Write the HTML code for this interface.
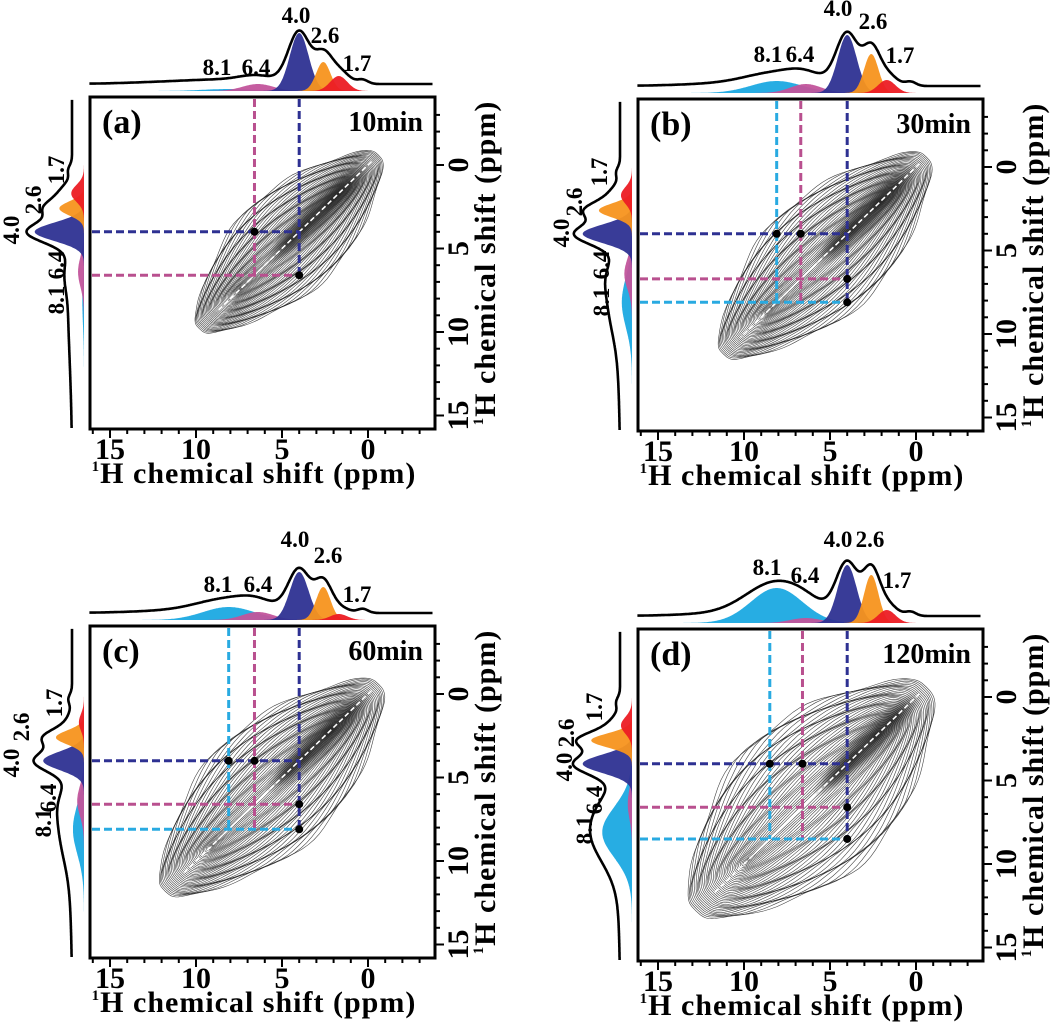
<!DOCTYPE html>
<html><head><meta charset="utf-8"><style>
html,body{margin:0;padding:0;background:#fff}
svg{display:block;font-family:"Liberation Serif",serif;font-weight:bold}
</style></head><body>
<svg id="fig" width="1050" height="1023" viewBox="0 0 1050 1023" xmlns="http://www.w3.org/2000/svg">
<defs>
<radialGradient id="blob"><stop offset="0" stop-color="#000" stop-opacity="0.7"/><stop offset="1" stop-color="#000" stop-opacity="0"/></radialGradient>
</defs>
</svg>
<script>
// ---- data ----
const panelLetters = ['(a)','(b)','(c)','(d)'];
const times = ['10min','30min','60min','120min'];
const peakCenters = [8.1, 6.4, 4.0, 2.6, 1.7];
const peakWidths = [1.5, 0.9, 0.55, 0.42, 0.5];
const peakColors = ['#1ba9e1','#c2549b','#2e3192','#f7931e','#ec1c24'];
const ampA = [2, 7, 58, 29, 15];
const ampB = [12, 9, 58, 39, 13];
const ampC = [13, 8, 48, 33, 6];
const ampD = [35, 5, 58, 48, 13];
const amps = [ampA, ampB, ampC, ampD];
const contourEnd = [9.8, 11.2, 11.8, 12.8];
const contourHalfWidth = [1.6, 1.85, 2.0, 2.5];
const crossCyan = [null, 8.1, 8.1, 8.5];
const crossMagenta = [6.6, 6.7, 6.6, 6.6];
const crossNavy = [4.0, 4.0, 4.0, 4.0];
const xTicks = [15, 10, 5, 0];
const yTicks = [0, 5, 10, 15];
const peakLabels = ['8.1','6.4','4.0','2.6','1.7'];
// layout (annotation positions, panel-relative)
const origins = [[0,0],[548,2],[0,529],[548,532]];
const topLabelPos = [
  [[217,75],[256,75],[296,23],[325,43],[357,71]],
  [[220,60],[252,60],[290,14],[325,27],[352,61]],
  [[218,63],[258,63],[295,18],[328,34],[357,73]],
  [[219,43],[257,51],[290,15],[322,15],[349,56]]
];
const leftLabelPos = [
  [[55,300],[55,265],[10,230],[32,200],[55,170]],
  [[52,300],[52,263],[12,231],[25,200],[50,170]],
  [[42,294],[47,269],[10,234],[20,198],[53,174]],
  [[35,298],[45,268],[15,235],[17,201],[45,175]]
];

const NS = 'http://www.w3.org/2000/svg';
const svg = document.getElementById('fig');
function mk(tag, attrs, parent){ const e=document.createElementNS(NS,tag); for(const k in attrs) e.setAttribute(k,attrs[k]); (parent||svg).appendChild(e); return e; }

const BL=90, BR=435, BT=97, BB=429;
function sx(p){ return 368 - 17.2*p; }
function sy(p){ return 165 + 16.7*p; }
function gauss(p,c,w){ return Math.exp(-0.5*((p-c)/w)**2); }

panelLetters.forEach((lab, i) => {
  const [ox, oy] = origins[i];
  const g = mk('g', {transform:`translate(${ox},${oy})`});
  
  
  const A = amps[i];
  const pLo = 16.2, pHi = -3.8;
  const total = (p, wm) => { let s = 0; A.forEach((a,k)=> s += a*gauss(p,peakCenters[k],peakWidths[k]*wm)); return s*0.9 + 4*gauss(p,0.3,0.3) + 3*gauss(p,10,3); };
  // ---- top projection ----
  const topG = mk('g', {}, g);
  
  
  const fb = 91;
  A.forEach((a, k) => {
    let d = `M${sx(pLo)},${fb}`;
    for (let p = pLo; p >= pHi; p -= 0.05) d += ` L${sx(p).toFixed(1)},${(fb - a*gauss(p,peakCenters[k],peakWidths[k])).toFixed(1)}`;
    d += ` L${sx(pHi)},${fb} Z`;
    const f = mk('path', {d, fill:peakColors[k], 'fill-opacity':0.95}, topG);
    
    
  });
  let bd = '';
  for (let p = pLo; p >= pHi; p -= 0.05) {
    bd += (bd ? ' L' : 'M') + sx(p).toFixed(1) + ',' + (fb - 7 - total(p,1.15)).toFixed(1);
  }
  const bt = mk('path', {d:bd, fill:'none', stroke:'#000', 'stroke-width':2.6}, topG);
  
  
  // ---- left projection ----
  const leftG = mk('g', {}, g);
  
  
  const lb = 84, yHi = 15.8;
  A.forEach((a, k) => {
    let d = `M${lb},${sy(-4)}`;
    for (let p = -4; p <= yHi; p += 0.05) d += ` L${(lb - 0.85*a*gauss(p,peakCenters[k],peakWidths[k])).toFixed(1)},${sy(p).toFixed(1)}`;
    d += ` L${lb},${sy(yHi)} Z`;
    const f = mk('path', {d, fill:peakColors[k], 'fill-opacity':0.95}, leftG);
    
    
  });
  let ld = '';
  for (let p = -3.9; p <= 15.8; p += 0.05) {
    ld += (ld ? ' L' : 'M') + (lb - 12 - 0.85*total(p,1.15)).toFixed(1) + ',' + sy(p).toFixed(1);
  }
  const bl = mk('path', {d:ld, fill:'none', stroke:'#000', 'stroke-width':2.6}, leftG);
  
  
  // ---- contours ----
  const cid = 'clip' + i;
  const cp = mk('clipPath', {id:cid}, g);
  mk('rect', {x:BL, y:BT, width:BR-BL, height:BB-BT}, cp);
  const cg = mk('g', {'clip-path':`url(#${cid})`}, g);
  
  
  const end = contourEnd[i], W = contourHalfWidth[i];
  const mid = (end - 0.6)/2, L = (end + 0.6)/2;
  const ang = Math.atan2(sy(1)-sy(0), sx(1)-sx(0))*180/Math.PI + 180;
  [[2.2,1.3],[3.6,1.1],[1.2,0.9],[4.6,0.8]].forEach(([c,s])=>{
    mk('ellipse', {cx:sx(c), cy:sy(c), rx:40*s, ry:14*s, fill:'url(#blob)', transform:`rotate(${ang} ${sx(c)} ${sy(c)})`}, cg);
  });
  const levels = 40;
  for (let l = 1; l <= levels; l++) {
    const k = l/levels;
    const ks = 0.55 + 0.45*k;
    let d = '';
    for (let t = 0; t <= 2*Math.PI + 0.001; t += Math.PI/60) {
      const c = Math.cos(t), sn = Math.sin(t);
      const s = mid + ks*L*c;
      const u = (s + 0.6)/(end + 0.6);
      const prof = Math.pow(Math.abs(sn), 0.6) * Math.sign(sn) * (0.45 + 0.9*Math.sin(Math.PI*Math.min(1,Math.max(0,u*0.9+0.05))));
      const dd = W*prof*k*(1 + 0.04*Math.sin(9*t+l));
      const xp = s + dd, yp = s - dd;
      d += (d ? ' L' : 'M') + sx(xp).toFixed(1) + ',' + sy(yp).toFixed(1);
    }
    const cc = mk('path', {d:d+' Z', fill:'none', stroke:'#222', 'stroke-width':0.6, 'stroke-opacity':0.85}, cg);
    
    
  }
  const dg = mk('line', {x1:sx(-0.2), y1:sy(-0.2), x2:sx(end-1), y2:sy(end-1), stroke:'#fff', 'stroke-width':1.6, 'stroke-dasharray':'5 3'}, cg);
  
  
  // ---- dashed cross-peak lines ----
  const crosses = [[crossCyan[i], '#29aae1'], [crossMagenta[i], '#b9508f'], [crossNavy[i], '#2e3192']].filter(c=>c[0]!==null);
  const maxY = Math.max(...crosses.map(c=>c[0]));
  crosses.forEach(([p, col]) => {
    const v = mk('line', {x1:sx(p), y1:BT+2, x2:sx(p), y2:sy(maxY), stroke:col, 'stroke-width':3, 'stroke-dasharray':'8 4'}, g);
    
    
  });
  crosses.forEach(([p, col]) => {
    const h = mk('line', {x1:BL+2, y1:sy(p), x2:sx(crossNavy[i]), y2:sy(p), stroke:col, 'stroke-width':3, 'stroke-dasharray':'8 4'}, g);
    
    
  });
  crosses.filter(c=>c[0]!==crossNavy[i]).forEach(([p]) => {
    const d1 = mk('circle', {cx:sx(p), cy:sy(crossNavy[i]), r:4, fill:'#000'}, g);
    
    
    const d2 = mk('circle', {cx:sx(crossNavy[i]), cy:sy(p), r:4, fill:'#000'}, g);
    
    
  });
  // ---- frame & ticks ----
  const fr = mk('rect', {x:BL, y:BT, width:BR-BL, height:BB-BT, fill:'none', stroke:'#000', 'stroke-width':3}, g);
  
  
  for (let p = -3; p <= 16; p++) {
    const x = sx(p); if (x < BL+2 || x > BR-2) continue;
    const len = (p % 5 === 0) ? 9 : 5;
    const t = mk('line', {x1:x, y1:BB, x2:x, y2:BB+len, stroke:'#000', 'stroke-width':2}, g);
     
  }
  for (let p = -4; p <= 16; p++) {
    const y = sy(p); if (y < BT+2 || y > BB-2) continue;
    const len = (p % 5 === 0) ? 9 : 5;
    const t = mk('line', {x1:BR, y1:y, x2:BR+len, y2:y, stroke:'#000', 'stroke-width':2}, g);
     
  }
  xTicks.forEach(v => {
    const t = mk('text', {x:sx(v), y:459, 'font-size':30, 'text-anchor':'middle'}, g);
    t.textContent = v;
     
  });
  yTicks.forEach(v => {
    const t = mk('text', {x:0, y:0, 'font-size':30, 'text-anchor':'middle', transform:`translate(468,${sy(v)}) rotate(-90)`}, g);
    t.textContent = v;
     
  });
  const xt = mk('text', {x:254, y:483, 'font-size':30, 'text-anchor':'middle', 'letter-spacing':'1.0'}, g);
  xt.innerHTML = '<tspan font-size="15" dy="-12">1</tspan><tspan dy="12">H chemical shift (ppm)</tspan>';
   
  const yt = mk('text', {x:0, y:0, 'font-size':30, 'text-anchor':'middle', 'letter-spacing':'1.0', transform:'translate(495,263) rotate(-90)'}, g);
  yt.innerHTML = '<tspan font-size="15" dy="-12">1</tspan><tspan dy="12">H chemical shift (ppm)</tspan>';
   
  const pl = mk('text', {x:102, y:133, 'font-size':34}, g);
  pl.textContent = lab;
   
  const tm = mk('text', {x:423, y:131, 'font-size':28, 'text-anchor':'end'}, g);
  tm.textContent = times[i];
   
  // ---- peak annotations ----
  peakLabels.forEach((txt, k) => {
    const [tx, ty] = topLabelPos[i][k];
    const t = mk('text', {x:tx, y:ty, 'font-size':23, 'text-anchor':'middle'}, g);
    t.textContent = txt;
     
    const [lx, ly] = leftLabelPos[i][k];
    const u = mk('text', {x:0, y:0, 'font-size':23, 'text-anchor':'middle', transform:`translate(${lx+9},${ly}) rotate(-90)`}, g);
    u.textContent = txt;
     
  });
});
</script>
</body></html>
